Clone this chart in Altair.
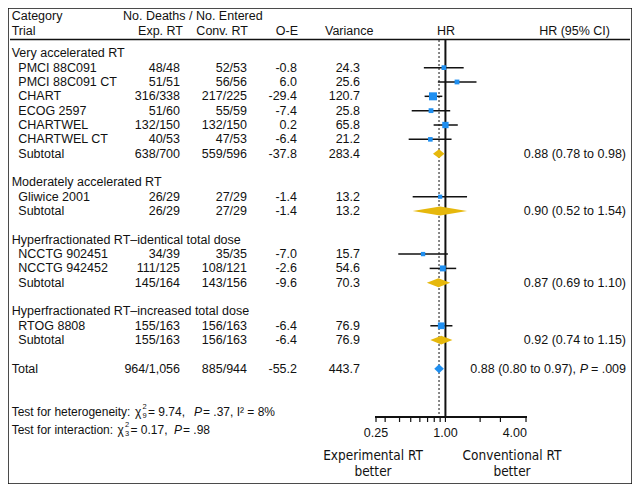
import altair as alt
import pandas as pd

# ---------------- data ----------------
group_names = ["Very accelerated RT", "Moderately accelerated RT",
               "Hyperfractionated RT\u2013identical total dose",
               "Hyperfractionated RT\u2013increased total dose"]
trial_names = ["PMCI 88C091", "PMCI 88C091 CT", "CHART", "ECOG 2597", "CHARTWEL",
               "CHARTWEL CT", "Gliwice 2001", "NCCTG 902451", "NCCTG 942452", "RTOG 8808"]
trial_group = [0, 0, 0, 0, 0, 0, 1, 2, 2, 3]
trial_exp = ["48/48", "51/51", "316/338", "51/60", "132/150", "40/53", "26/29", "34/39", "111/125", "155/163"]
trial_conv = ["52/53", "56/56", "217/225", "55/59", "132/150", "47/53", "27/29", "35/35", "108/121", "156/163"]
trial_oe = [-0.8, 6.0, -29.4, -7.4, 0.2, -6.4, -1.4, -7.0, -2.6, -6.4]
trial_var = [24.3, 25.6, 120.7, 25.8, 65.8, 21.2, 13.2, 15.7, 54.6, 76.9]
trial_hr = [0.97, 1.26, 0.78, 0.75, 1.00, 0.74, 0.90, 0.64, 0.95, 0.92]
trial_lo = [0.65, 0.86, 0.66, 0.51, 0.79, 0.48, 0.52, 0.39, 0.73, 0.74]
trial_hi = [1.44, 1.86, 0.94, 1.10, 1.28, 1.13, 1.54, 1.05, 1.24, 1.15]

sub_exp = ["638/700", "26/29", "145/164", "155/163"]
sub_conv = ["559/596", "27/29", "143/156", "156/163"]
sub_oe = [-37.8, -1.4, -9.6, -6.4]
sub_var = [283.4, 13.2, 70.3, 76.9]
sub_hr = [0.88, 0.90, 0.87, 0.92]
sub_lo = [0.78, 0.52, 0.69, 0.74]
sub_hi = [0.98, 1.54, 1.10, 1.15]

total_exp = "964/1,056"
total_conv = "885/944"
total_oe = -55.2
total_var = 443.7
total_hr, total_lo, total_hi = 0.88, 0.80, 0.97
total_p = ".009"

axis_ticks = [0.25, 0.3, 0.4, 0.5, 0.6, 0.7, 0.8, 0.9, 1.0, 2.0, 3.0, 5.0]
axis_labels = [0.25, 1.0, 4.0]
axis_ends = [0.245, 5.1]

# ---------------- table ----------------
rows = []
r = 0
for g, gname in enumerate(group_names):
    rows.append(dict(row=r, kind="cat", label=gname, exp="", conv="", oe="", var="", ci=""))
    r += 1
    for i, gi in enumerate(trial_group):
        if gi == g:
            rows.append(dict(row=r, kind="trial", label=trial_names[i], exp=trial_exp[i],
                             conv=trial_conv[i], oe=f"{trial_oe[i]:.1f}", var=f"{trial_var[i]:.1f}",
                             ci="", hr=trial_hr[i], lo=trial_lo[i], hi=trial_hi[i], v=trial_var[i]))
            r += 1
    rows.append(dict(row=r, kind="sub", label="Subtotal", exp=sub_exp[g], conv=sub_conv[g],
                     oe=f"{sub_oe[g]:.1f}", var=f"{sub_var[g]:.1f}",
                     ci=f"{sub_hr[g]:.2f} ({sub_lo[g]:.2f} to {sub_hi[g]:.2f})",
                     hr=sub_hr[g], lo=sub_lo[g], hi=sub_hi[g]))
    r += 2
rows.append(dict(row=r, kind="total", label="Total", exp=total_exp, conv=total_conv,
                 oe=f"{total_oe:.1f}", var=f"{total_var:.1f}", ci="",
                 hr=total_hr, lo=total_lo, hi=total_hi))
df = pd.DataFrame(rows)
trials_df = df[df.kind == "trial"].copy()

H = 0.31
dia = []
for _, rr in df[df.kind.isin(["sub", "total"])].iterrows():
    col = "#1f8ff0" if rr.kind == "total" else "#e6b80c"
    dia.append(dict(grp=rr.row, x=rr.lo, y1=rr.row, y2=rr.row, col=col))
    dia.append(dict(grp=rr.row, x=rr.hr, y1=rr.row - H, y2=rr.row + H, col=col))
    dia.append(dict(grp=rr.row, x=rr.hi, y1=rr.row, y2=rr.row, col=col))
dia_df = pd.DataFrame(dia)

FONT = "Liberation Sans"
FS = 12.5
BLUE = "#1f8ff0"

xs = alt.Scale(type="log", domain=axis_ends, range=[367, 519], nice=False)
ys = alt.Scale(type="linear", domain=[0, 22], range=[45.3, 360.8], nice=False, zero=False)
Y = alt.Y("row:Q", scale=ys, axis=None)


def txt(text, x, y, align="left", size=FS, style="normal", font=FONT):
    return alt.Chart(pd.DataFrame({"t": [text]})).mark_text(
        align=align, baseline="middle", fontSize=size, fontStyle=style, font=font, color="#111"
    ).encode(text="t:N", x=alt.value(x), y=alt.value(y))


def col_text(kinds, field, x, align):
    return alt.Chart(df[df.kind.isin(kinds)]).mark_text(
        align=align, baseline="middle", fontSize=FS, font=FONT, color="#111"
    ).encode(text=f"{field}:N", x=alt.value(x), y=Y)


layers = []
# header rule
layers.append(alt.Chart(pd.DataFrame({"a": [0]})).mark_rule(color="#111", strokeWidth=1.5).encode(
    x=alt.value(2), x2=alt.value(622), y=alt.value(31.5)))
# reference lines
layers.append(alt.Chart(pd.DataFrame({"v": [total_hr]})).mark_rule(
    color="#111", strokeWidth=1, strokeDash=[2, 2]).encode(
    x=alt.X("v:Q", scale=xs, axis=None), y=alt.value(32), y2=alt.value(409)))
layers.append(alt.Chart(pd.DataFrame({"v": [1.0]})).mark_rule(color="#111", strokeWidth=2).encode(
    x=alt.X("v:Q", scale=xs, axis=None), y=alt.value(32), y2=alt.value(409)))
# CI lines
layers.append(alt.Chart(trials_df).mark_rule(color="#111", strokeWidth=1.5).encode(
    x=alt.X("lo:Q", scale=xs, axis=None), x2="hi:Q", y=Y))
# squares
layers.append(alt.Chart(trials_df).mark_square(filled=True, opacity=1, color=BLUE).encode(
    x=alt.X("hr:Q", scale=xs, axis=None), y=Y,
    size=alt.Size("v:Q", scale=alt.Scale(domain=[0, 121], range=[12, 64]), legend=None)))
# diamonds
layers.append(alt.Chart(dia_df).mark_area(orient="vertical", opacity=1).encode(
    x=alt.X("x:Q", scale=xs, axis=None),
    y=alt.Y("y1:Q", scale=ys, axis=None), y2="y2:Q",
    detail="grp:N", color=alt.Color("col:N", scale=None)))
# axis
layers.append(alt.Chart(pd.DataFrame({"a": [axis_ends[0]], "b": [axis_ends[1]]})).mark_rule(
    color="#111", strokeWidth=2).encode(
    x=alt.X("a:Q", scale=xs, axis=None), x2="b:Q", y=alt.value(409)))
layers.append(alt.Chart(pd.DataFrame({"t": axis_ticks})).mark_rule(color="#111", strokeWidth=1.2).encode(
    x=alt.X("t:Q", scale=xs, axis=None), y=alt.value(409), y2=alt.value(414)))
layers.append(alt.Chart(pd.DataFrame({"t": axis_labels, "lab": [f"{v:.2f}" for v in axis_labels]})).mark_text(
    align="center", baseline="middle", fontSize=FS, font=FONT, color="#111").encode(
    x=alt.X("t:Q", scale=xs, axis=None), y=alt.value(424.7), text="lab:N"))

# headers
layers += [
    txt("Category", 3.7, 7.5),
    txt("No. Deaths / No. Entered", 115, 7.5),
    txt("Trial", 3.7, 23),
    txt("Exp. RT", 175, 23, "right"),
    txt("Conv. RT", 240, 23, "right"),
    txt("O-E", 290, 23, "right"),
    txt("Variance", 317, 23),
    txt("HR", 438, 23, "center"),
    txt("HR (95% CI)", 602, 23, "right"),
]

# table columns
layers += [
    col_text(["cat", "total"], "label", 3.7, "left"),
    col_text(["trial", "sub"], "label", 10.3, "left"),
    col_text(["trial", "sub", "total"], "exp", 172, "right"),
    col_text(["trial", "sub", "total"], "conv", 239, "right"),
    col_text(["trial", "sub", "total"], "oe", 289, "right"),
    col_text(["trial", "sub", "total"], "var", 352, "right"),
    col_text(["sub"], "ci", 618, "right"),
]

# total CI with italic P (chained from the right edge)
ty = 360.8
layers += [
    txt(f"{total_hr:.2f} ({total_lo:.2f} to {total_hi:.2f}),", 568, ty, "right"),
    txt("P", 580, ty, "right", style="italic"),
    txt(f"= {total_p}", 618, ty, "right"),
]

# test lines
y1, y2 = 403.7, 422
TS = 12
layers += [
    txt("Test for heterogeneity:", 3.7, y1, size=TS),
    txt("\u03c7", 127, y1, size=TS),
    txt("2", 134.5, y1 - 5, size=7.5),
    txt("9", 134.5, y1 + 4, size=7.5),
    txt("= 9.74,", 140, y1, size=TS),
    txt("P", 186, y1, style="italic", size=TS),
    txt("= .37, I\u00b2 = 8%", 195, y1, size=TS),
    txt("Test for interaction:", 3.7, y2, size=TS),
    txt("\u03c7", 109.5, y2, size=TS),
    txt("2", 117, y2 - 5, size=7.5),
    txt("3", 117, y2 + 4, size=7.5),
    txt("= 0.17,", 122.5, y2, size=TS),
    txt("P", 166, y2, style="italic", size=TS),
    txt("= .98", 175, y2, size=TS),
]

# favour labels
NARROW = "Liberation Sans Narrow, DejaVu Sans Condensed, Liberation Sans"
FL = 13.5
layers += [
    txt("Experimental RT", 365, 448, "center", FL, font=NARROW),
    txt("better", 365, 464, "center", FL, font=NARROW),
    txt("Conventional RT", 504, 448, "center", FL, font=NARROW),
    txt("better", 504, 464, "center", FL, font=NARROW),
]

chart = alt.layer(*layers).properties(
    width=624, height=476, padding=0,
    autosize=alt.AutoSizeParams(type="none"),
    background="white",
).configure_view(stroke="#111", strokeWidth=1.5)

chart.save("out.html", embed_options={"renderer": "svg", "actions": False})
